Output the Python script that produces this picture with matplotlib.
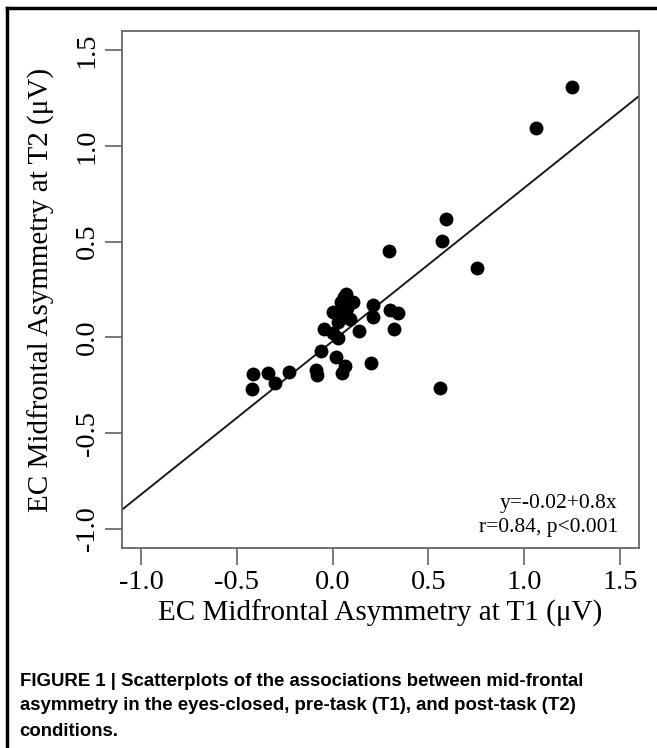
import numpy as np
import matplotlib
matplotlib.use("Agg")
import matplotlib.pyplot as plt
from matplotlib.lines import Line2D

# ------------------------- data -------------------------

t1 = [1.251, 1.064, 0.590, 0.573, 0.754, 0.292, 0.562,
      -0.418, -0.421, -0.339, -0.299, -0.230, -0.085, -0.080,
      -0.060, 0.015, 0.062, 0.050, 0.201,
      -0.043, 0.000, 0.027, 0.071, 0.044, 0.105, 0.000, 0.053,
      0.027, 0.137, 0.210, 0.213, 0.297, 0.340, 0.323, 0.077, 0.090, 0.060]
t2 = [1.308, 1.091, 0.616, 0.503, 0.364, 0.452, -0.263,
      -0.193, -0.271, -0.187, -0.236, -0.179, -0.170, -0.195,
      -0.069, -0.104, -0.149, -0.187, -0.132,
      0.042, 0.021, -0.005, 0.227, 0.186, 0.186, 0.134, 0.126,
      0.082, 0.035, 0.169, 0.108, 0.143, 0.129, 0.042, 0.153, 0.095, 0.210]

intercept = -0.02
slope = 0.8
ticks = [-1.0, -0.5, 0.0, 0.5, 1.0, 1.5]
fit_text = ["y=-0.02+0.8x", "r=0.84, p<0.001"]
caption = ["FIGURE 1 | Scatterplots of the associations between mid-frontal",
           "asymmetry in the eyes-closed, pre-task (T1), and post-task (T2)",
           "conditions."]

# ------------------------- figure ---------------------------------------------

serif = ["Liberation Serif", "DejaVu Serif"]
fig = plt.figure(figsize=(6.57, 7.48), dpi=100)
ax = fig.add_axes([0.1857, 0.2674, 0.7869, 0.6912])

ax.scatter(t1, t2, s=100, color="black", linewidths=0, zorder=3)

xl = (-1.1, 1.6)
ax.plot(xl, [intercept + slope * v for v in xl], color="#1a1a1a", lw=1.4, zorder=2)
ax.set_xlim(xl)
ax.set_ylim(-1.1, 1.6)

ax.set_xticks(ticks)
ax.set_yticks(ticks)
ax.set_xticklabels([f"{v:.1f}" for v in ticks], family=serif, fontsize=20.5)
ax.set_yticklabels([f"{v:.1f}" for v in ticks], family=serif, fontsize=20.5,
                   rotation=90, va="center")
ax.tick_params(direction="out", length=12, width=1.1, color="#555555", pad=4)

for sp in ax.spines.values():
    sp.set_color("#666666")
    sp.set_linewidth(1.3)

ax.set_xlabel("EC Midfrontal Asymmetry at T1 (\u03bcV)", family=serif,
              fontsize=21, labelpad=3)
ax.set_ylabel("EC Midfrontal Asymmetry at T2 (\u03bcV)", family=serif,
              fontsize=21, labelpad=14)

ax.text(0.959, 0.087, fit_text[0], transform=ax.transAxes, ha="right",
        va="center", family=serif, fontsize=15.5)
ax.text(0.959, 0.039, fit_text[1], transform=ax.transAxes, ha="right",
        va="center", family=serif, fontsize=15.5)

# caption and frame
for i, line in enumerate(caption):
    fig.text(0.030, 1 - (681 + 25 * i) / 748, line, ha="left", va="center",
             family=["Liberation Sans", "DejaVu Sans"], fontweight="bold",
             fontsize=13.45)

fig.add_artist(Line2D([7 / 657, 1.0], [1 - 8 / 748] * 2, color="black", lw=2.5))
fig.add_artist(Line2D([7 / 657] * 2, [0.0, 1 - 8 / 748], color="black", lw=2.5))

fig.savefig("out.png", dpi=100)
